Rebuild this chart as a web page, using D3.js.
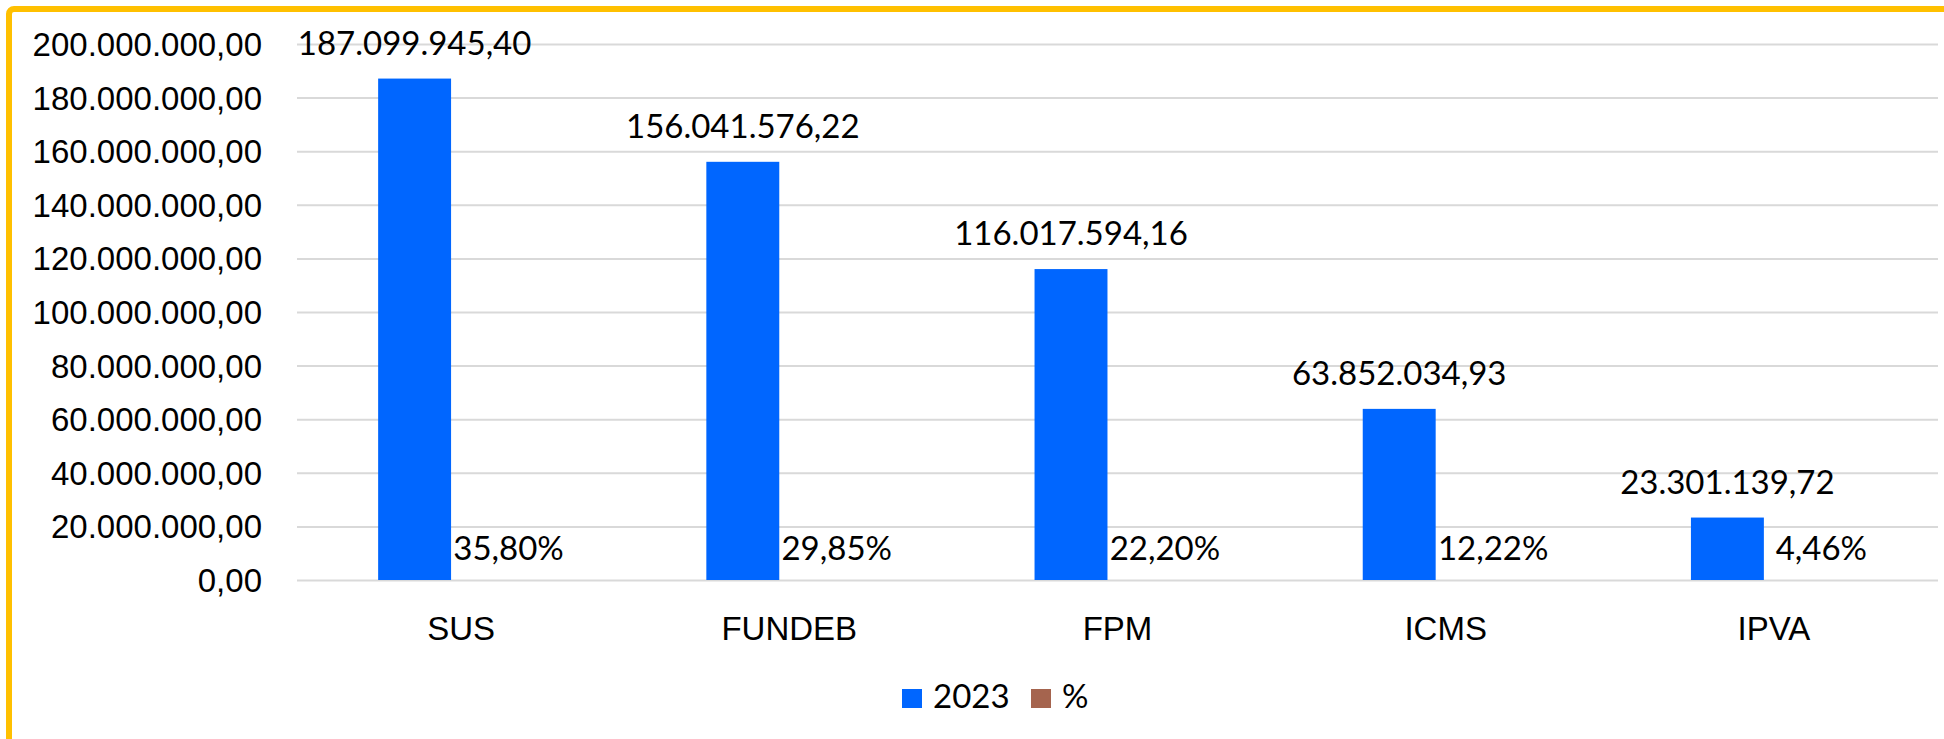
<!DOCTYPE html>
<html lang="pt-BR">
<head>
<meta charset="UTF-8">
<title>Receitas 2023</title>
<script src="https://d3js.org/d3.v7.min.js"></script>
<style>
  body { margin: 0; background: #fff; }
  svg { display: block; font-family: Lato, "Open Sans", sans-serif; }
</style>
</head>
<body>
<div id="chart"></div>
<script>
// dados
const categorias = ["SUS", "FUNDEB", "FPM", "ICMS", "IPVA"];
const valores2023 = [187099945.40, 156041576.22, 116017594.16, 63852034.93, 23301139.72];
const percentuais = [35.80, 29.85, 22.20, 12.22, 4.46];
const series = ["2023", "%"];
const cores = ["#0066ff", "#a5644e"];

const W = 1944, H = 739;
const plotLeft = 297, plotRight = 1938, plotTop = 44, plotBottom = 580;
const fs = "33px";

const br = d3.formatLocale({ decimal: ",", thousands: ".", grouping: [3], currency: ["R$", ""] });
const fmt = br.format(",.2f");

const svg = d3.select("#chart").append("svg")
  .attr("width", W)
  .attr("height", H);

// borda amarela (so topo e esquerda aparecem)
svg.append("rect")
  .attr("x", 9).attr("y", 9)
  .attr("width", W + 40).attr("height", H + 40)
  .attr("rx", 5)
  .attr("fill", "none")
  .attr("stroke", "#ffc000")
  .attr("stroke-width", 6);

const x = d3.scaleBand()
  .domain(categorias)
  .range([plotLeft, plotRight]);

const xSub = d3.scaleBand()
  .domain(series)
  .range([0, x.bandwidth()])
  .paddingOuter(1.25)
  .align(0.445);

const y = d3.scaleLinear()
  .domain([0, 200000000])
  .range([plotBottom, plotTop]);

// eixo y + grade
const yAxis = svg.append("g")
  .attr("transform", `translate(${plotLeft},0)`)
  .call(d3.axisLeft(y).ticks(10).tickSize(-(plotRight - plotLeft)).tickPadding(35).tickFormat(fmt));
yAxis.select(".domain").remove();
yAxis.selectAll("line").attr("stroke", "#d9d9d9").attr("stroke-width", 2);
yAxis.selectAll("text")
  .attr("fill", "#000")
  .style("font-size", fs)
  .attr("dy", "0.35em");

// eixo x
const xAxis = svg.append("g")
  .attr("transform", `translate(0,${plotBottom})`)
  .call(d3.axisBottom(x).tickSize(0));
xAxis.select(".domain").remove();
xAxis.selectAll("text")
  .attr("fill", "#000")
  .style("font-size", fs)
  .attr("y", 60)
  .attr("dy", 0);

const linhas = categorias.map((c, i) => ({ cat: c, v: valores2023[i], p: percentuais[i] }));

// barras 2023
svg.append("g").selectAll("rect")
  .data(linhas)
  .join("rect")
  .attr("x", d => x(d.cat) + xSub("2023"))
  .attr("y", d => y(d.v))
  .attr("width", xSub.bandwidth())
  .attr("height", d => y(0) - y(d.v))
  .attr("fill", cores[0]);

// barras % (mesmo eixo, ficam quase sem altura)
svg.append("g").selectAll("rect")
  .data(linhas)
  .join("rect")
  .attr("x", d => x(d.cat) + xSub("%"))
  .attr("y", d => y(d.p))
  .attr("width", xSub.bandwidth())
  .attr("height", d => y(0) - y(d.p))
  .attr("fill", cores[1]);

// rotulos de valor
svg.append("g").selectAll("text")
  .data(linhas)
  .join("text")
  .attr("x", d => x(d.cat) + xSub("2023") + xSub.bandwidth() / 2)
  .attr("y", d => y(d.v) - 24)
  .attr("text-anchor", "middle")
  .style("font-size", fs)
  .attr("fill", "#000")
  .text(d => fmt(d.v));

svg.append("g").selectAll("text")
  .data(linhas)
  .join("text")
  .attr("x", d => x(d.cat) + xSub("%") + xSub.bandwidth() / 2 + 21)
  .attr("y", d => y(d.p) - 20)
  .attr("text-anchor", "middle")
  .style("font-size", fs)
  .attr("fill", "#000")
  .text(d => br.format(".2f")(d.p) + "%");

// legenda
const leg = svg.append("g").attr("transform", "translate(902,689)");
const offs = [0, 129];
series.forEach((s, i) => {
  leg.append("rect")
    .attr("x", offs[i]).attr("y", 0)
    .attr("width", 20).attr("height", 19)
    .attr("fill", cores[i]);
  leg.append("text")
    .attr("x", offs[i] + 31).attr("y", 19)
    .style("font-size", fs)
    .attr("fill", "#000")
    .text(s);
});
</script>
</body>
</html>
